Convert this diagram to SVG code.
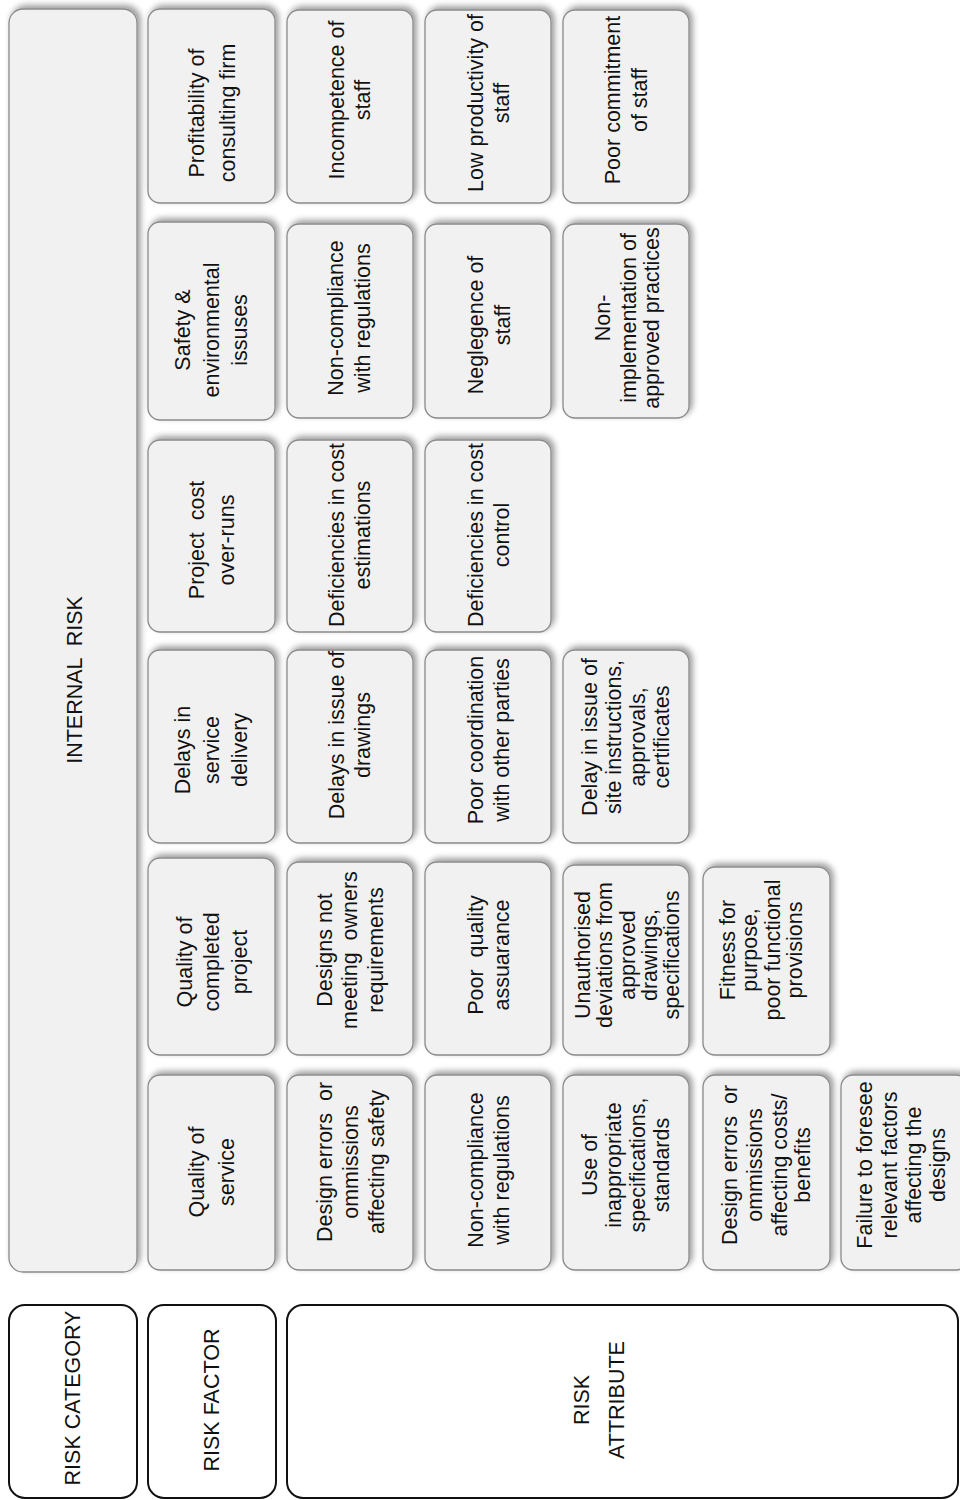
<svg xmlns="http://www.w3.org/2000/svg" width="960" height="1500" viewBox="0 0 960 1500">
<defs>
<filter id="sh" x="-15%" y="-15%" width="130%" height="130%">
<feGaussianBlur in="SourceAlpha" stdDeviation="3"/>
<feOffset dx="3" dy="-3" result="o"/>
<feComponentTransfer><feFuncA type="linear" slope="0.4"/></feComponentTransfer>
<feMerge><feMergeNode/><feMergeNode in="SourceGraphic"/></feMerge>
</filter>
<style>
.b{fill:#f1f1f1;stroke:#8a8a8a;stroke-width:1.3;filter:url(#sh)}
.l{fill:#ffffff;stroke:#111111;stroke-width:2}
text{font-family:"Liberation Sans",Arial,sans-serif;font-size:21.5px;fill:#111111;text-anchor:middle}
</style>
</defs>
<rect width="960" height="1500" fill="#ffffff"/>
<g id="connectors"/>

<g id="internal-risk">
<rect class="b" x="9" y="9" width="128" height="1263" rx="14"/>
<text transform="rotate(-90)" x="-680" y="82" xml:space="preserve">INTERNAL  RISK</text>
</g>

<!-- Column 2: risk factors -->
<g id="f-profitability"><rect class="b" x="148" y="9" width="127" height="194" rx="12"/>
<text transform="rotate(-90)"><tspan x="-113" y="204">Profitability of</tspan><tspan x="-113" y="235">consulting firm</tspan></text></g>
<g id="f-safety"><rect class="b" x="148" y="222" width="127" height="198" rx="12"/>
<text transform="rotate(-90)"><tspan x="-330" y="190">Safety &amp;</tspan><tspan x="-330" y="219">environmental</tspan><tspan x="-330" y="247">issuses</tspan></text></g>
<g id="f-cost"><rect class="b" x="148" y="440" width="127" height="192" rx="12"/>
<text transform="rotate(-90)" xml:space="preserve"><tspan x="-540" y="204">Project  cost</tspan><tspan x="-540" y="234">over-runs</tspan></text></g>
<g id="f-delays"><rect class="b" x="148" y="650" width="127" height="193" rx="12"/>
<text transform="rotate(-90)"><tspan x="-750" y="190">Delays in</tspan><tspan x="-750" y="219">service</tspan><tspan x="-750" y="247">delivery</tspan></text></g>
<g id="f-quality-project"><rect class="b" x="148" y="858" width="127" height="197" rx="12"/>
<text transform="rotate(-90)"><tspan x="-962" y="192">Quality of</tspan><tspan x="-962" y="219">completed</tspan><tspan x="-962" y="247">project</tspan></text></g>
<g id="f-quality-service"><rect class="b" x="148" y="1075" width="127" height="195" rx="12"/>
<text transform="rotate(-90)"><tspan x="-1172" y="204">Quality of</tspan><tspan x="-1172" y="234">service</tspan></text></g>

<!-- Column 3 -->
<g id="a-incompetence"><rect class="b" x="287" y="10" width="126" height="193" rx="12"/>
<text transform="rotate(-90)"><tspan x="-100" y="344">Incompetence of</tspan><tspan x="-100" y="370">staff</tspan></text></g>
<g id="a-noncompliance1"><rect class="b" x="287" y="224" width="126" height="194" rx="12"/>
<text transform="rotate(-90)"><tspan x="-318" y="343">Non-compliance</tspan><tspan x="-318" y="370">with regulations</tspan></text></g>
<g id="a-deficiencies-est"><rect class="b" x="287" y="440" width="126" height="192" rx="12"/>
<text transform="rotate(-90)"><tspan x="-535" y="344">Deficiencies in cost</tspan><tspan x="-535" y="370">estimations</tspan></text></g>
<g id="a-delays-drawings"><rect class="b" x="287" y="650" width="126" height="193" rx="12"/>
<text transform="rotate(-90)"><tspan x="-735" y="344">Delays in issue of</tspan><tspan x="-735" y="370">drawings</tspan></text></g>
<g id="a-designs-not"><rect class="b" x="287" y="862" width="126" height="193" rx="12"/>
<text transform="rotate(-90)" xml:space="preserve"><tspan x="-950" y="332">Designs not</tspan><tspan x="-950" y="357">meeting  owners</tspan><tspan x="-950" y="383">requirements</tspan></text></g>
<g id="a-design-errors-safety"><rect class="b" x="287" y="1075" width="126" height="195" rx="12"/>
<text transform="rotate(-90)" xml:space="preserve"><tspan x="-1162" y="332">Design errors  or</tspan><tspan x="-1162" y="358">ommissions</tspan><tspan x="-1162" y="384">affecting safety</tspan></text></g>

<!-- Column 4 -->
<g id="a-low-productivity"><rect class="b" x="425" y="10" width="126" height="193" rx="12"/>
<text transform="rotate(-90)"><tspan x="-103" y="483">Low productivity of</tspan><tspan x="-103" y="509">staff</tspan></text></g>
<g id="a-neglegence"><rect class="b" x="425" y="224" width="126" height="194" rx="12"/>
<text transform="rotate(-90)"><tspan x="-325" y="483">Neglegence of</tspan><tspan x="-325" y="510">staff</tspan></text></g>
<g id="a-deficiencies-ctrl"><rect class="b" x="425" y="440" width="126" height="192" rx="12"/>
<text transform="rotate(-90)"><tspan x="-535" y="483">Deficiencies in cost</tspan><tspan x="-535" y="509">control</tspan></text></g>
<g id="a-poor-coordination"><rect class="b" x="425" y="650" width="126" height="193" rx="12"/>
<text transform="rotate(-90)"><tspan x="-740" y="483">Poor coordination</tspan><tspan x="-740" y="509">with other parties</tspan></text></g>
<g id="a-poor-quality"><rect class="b" x="425" y="862" width="126" height="193" rx="12"/>
<text transform="rotate(-90)" xml:space="preserve"><tspan x="-955" y="483">Poor  quality</tspan><tspan x="-955" y="509">assuarance</tspan></text></g>
<g id="a-noncompliance2"><rect class="b" x="425" y="1075" width="126" height="195" rx="12"/>
<text transform="rotate(-90)"><tspan x="-1170" y="483">Non-compliance</tspan><tspan x="-1170" y="509">with regulations</tspan></text></g>

<!-- Column 5 -->
<g id="a-poor-commitment"><rect class="b" x="563" y="10" width="126" height="193" rx="12"/>
<text transform="rotate(-90)"><tspan x="-100" y="620">Poor commitment</tspan><tspan x="-100" y="647">of staff</tspan></text></g>
<g id="a-non-implementation"><rect class="b" x="563" y="224" width="126" height="194" rx="12"/>
<text transform="rotate(-90)"><tspan x="-318" y="610">Non-</tspan><tspan x="-318" y="636">implementation of</tspan><tspan x="-318" y="659">approved practices</tspan></text></g>
<g id="a-delay-site"><rect class="b" x="563" y="650" width="126" height="193" rx="12"/>
<text transform="rotate(-90)"><tspan x="-737" y="597">Delay in issue of</tspan><tspan x="-737" y="621">site instructions,</tspan><tspan x="-737" y="645">approvals,</tspan><tspan x="-737" y="669">certificates</tspan></text></g>
<g id="a-unauthorised"><rect class="b" x="563" y="865" width="126" height="190" rx="12"/>
<text transform="rotate(-90)"><tspan x="-955" y="590">Unauthorised</tspan><tspan x="-955" y="612">deviations from</tspan><tspan x="-955" y="635">approved</tspan><tspan x="-955" y="657">drawings,</tspan><tspan x="-955" y="679">specifications</tspan></text></g>
<g id="a-inappropriate"><rect class="b" x="563" y="1075" width="126" height="195" rx="12"/>
<text transform="rotate(-90)"><tspan x="-1165" y="597">Use of</tspan><tspan x="-1165" y="621">inappropriate</tspan><tspan x="-1165" y="645">specifications,</tspan><tspan x="-1165" y="669">standards</tspan></text></g>

<!-- Column 6 -->
<g id="a-fitness"><rect class="b" x="703" y="867" width="127" height="188" rx="12"/>
<text transform="rotate(-90)"><tspan x="-950" y="735">Fitness for</tspan><tspan x="-950" y="757">purpose,</tspan><tspan x="-950" y="780">poor functional</tspan><tspan x="-950" y="802">provisions</tspan></text></g>
<g id="a-design-errors-costs"><rect class="b" x="703" y="1075" width="127" height="195" rx="12"/>
<text transform="rotate(-90)" xml:space="preserve"><tspan x="-1165" y="737">Design errors  or</tspan><tspan x="-1165" y="762">ommissions</tspan><tspan x="-1165" y="787">affecting costs/</tspan><tspan x="-1165" y="810">benefits</tspan></text></g>

<!-- Column 7 -->
<g id="a-failure"><rect class="b" x="841" y="1075" width="127" height="195" rx="12"/>
<text transform="rotate(-90)"><tspan x="-1165" y="872">Failure to foresee</tspan><tspan x="-1165" y="897">relevant factors</tspan><tspan x="-1165" y="921">affecting the</tspan><tspan x="-1165" y="945">designs</tspan></text></g>

<!-- Legend -->
<g id="legend-category"><rect class="l" x="9" y="1305" width="128" height="193" rx="16"/>
<text transform="rotate(-90)" x="-1398" y="80">RISK CATEGORY</text></g>
<g id="legend-factor"><rect class="l" x="148" y="1305" width="128" height="193" rx="16"/>
<text transform="rotate(-90)" x="-1400" y="219">RISK FACTOR</text></g>
<g id="legend-attribute"><rect class="l" x="287" y="1305" width="671" height="193" rx="16"/>
<text transform="rotate(-90)"><tspan x="-1400" y="589">RISK</tspan><tspan x="-1400" y="624">ATTRIBUTE</tspan></text></g>
</svg>
